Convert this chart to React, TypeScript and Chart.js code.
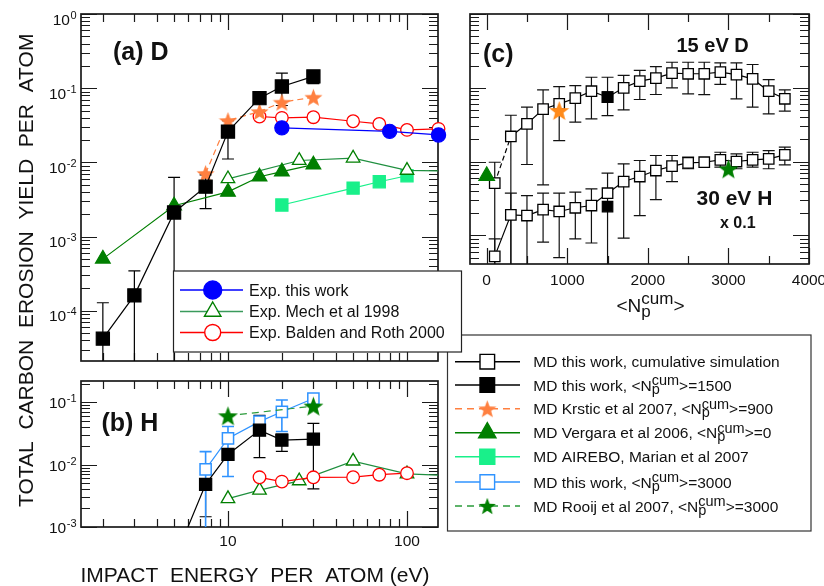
import React, { useEffect, useRef } from 'react';
import { Chart, registerables } from 'chart.js';

Chart.register(...registerables);

const FONT = '"Liberation Sans", Arial, Helvetica, sans-serif';
const CW = 824;
const CH = 586;

// ---------------- (a) D : yield vs impact energy ----------------
const energyMdD = [2, 3, 5, 7.5, 10, 15, 20, 30];
const yieldMdD = [4.2e-5, 1.61e-4, 2.11e-3, 4.7e-3, 0.026, 0.0733, 0.1055, 0.144];
const yieldMdDLow = [1e-6, 1e-6, 1e-6, 2.38e-3, 0.0111, null, 0.0584, 0.115];
const yieldMdDHigh = [1.28e-4, 3.44e-4, 6.27e-3, 6.8e-3, 0.0366, null, 0.16, 0.155];

const energyKrstic = [7.5, 10, 15, 20, 30];
const yieldKrstic = [7.1e-3, 0.0366, 0.0484, 0.0647, 0.0756];

const energyBaldenD = [15, 20, 30, 50, 70, 100, 150];
const yieldBaldenD = [0.0415, 0.0398, 0.0406, 0.0358, 0.033, 0.0274, 0.0283];

const energyExpD = [20, 80, 150];
const yieldExpD = [0.0292, 0.0262, 0.0234];

const energyMechD = [10, 25, 50, 100, 200];
const yieldMechD = [0.006, 0.0106, 0.0114, 0.0078, 0.0076];

const energyVergara = [2, 5, 10, 15, 20, 30];
const yieldVergara = [5.0e-4, 2.6e-3, 4.0e-3, 6.4e-3, 7.5e-3, 9.3e-3];

const energyAirebo = [20, 50, 70, 100];
const yieldAirebo = [2.66e-3, 4.5e-3, 5.48e-3, 6.6e-3];

// ---------------- (b) H : yield vs impact energy ----------------
const energyMdH = [5, 7.5, 10, 15, 20, 30];
const yieldMdH = [2.9e-4, 4.83e-3, 0.0146, 0.0358, 0.0248, 0.0257];
const yieldMdHLow = [null, 1.46e-3, null, 0.013, 0.0163, 0.0041];
const yieldMdHHigh = [null, 4.83e-3, null, 0.062, 0.031, 0.046];

const energyMd3000 = [7.5, 10, 15, 20, 30];
const yieldMd3000 = [8.4e-3, 0.0264, 0.049, 0.0705, 0.115];
const yieldMd3000Low = [1e-6, 6.45e-3, null, 0.034, null];
const yieldMd3000High = [0.0162, 0.041, null, 0.109, null];

const energyRooij = [10, 30];
const yieldRooij = [0.0608, 0.0871];

const energyBaldenH = [15, 20, 30, 50, 70, 100];
const yieldBaldenH = [6.27e-3, 5.35e-3, 6.27e-3, 6.3e-3, 6.9e-3, 7.3e-3];

const energyMechH = [10, 15, 25, 50, 100, 200];
const yieldMechH = [2.85e-3, 3.9e-3, 5.5e-3, 0.0114, 7.1e-3, 6.6e-3];

// ---------------- (c) yield vs cumulative fluence ----------------
const cumN = [100, 300, 500, 700, 900, 1100, 1300, 1500, 1700, 1900, 2100, 2300, 2500, 2700, 2900, 3100, 3300, 3500, 3700];
const cumD15 = [0.0051, 0.0219, 0.0325, 0.0513, 0.0607, 0.0723, 0.0899, 0.0746, 0.1, 0.123, 0.135, 0.158, 0.155, 0.155, 0.163, 0.151, 0.132, 0.09, 0.071];
const cumD15Low = [1e-6, 1e-6, 0.00914, 0.00485, 0.0193, 0.0342, 0.038, 0.0421, 0.0503, 0.0694, 0.0811, 0.1, 0.083, 0.081, 0.111, 0.071, 0.0546, 0.0444, 0.0482];
const cumD15High = [0.0098, 0.0425, 0.0546, 0.094, 0.104, 0.107, 0.139, 0.139, 0.147, 0.172, 0.194, 0.222, 0.222, 0.222, 0.218, 0.218, 0.207, 0.129, 0.094];
// 30 eV H, plotted x 0.1
const cumH30 = [5.2e-4, 1.9e-3, 1.86e-3, 2.24e-3, 2.11e-3, 2.37e-3, 2.54e-3, 3.73e-3, 5.37e-3, 6.28e-3, 7.57e-3, 8.67e-3, 9.63e-3, 9.81e-3, 0.01057, 0.01003, 0.01057, 0.0109, 0.01236];
const cumH30Low = [1e-6, 1e-6, 1e-6, 8.1e-4, 5.0e-4, 9.0e-4, 7.9e-4, 1e-6, 9.2e-4, 1.86e-3, 3.06e-3, 5.37e-3, 8.0e-3, null, 8.4e-3, 8.0e-3, 8.4e-3, 8.0e-3, 9.06e-3];
const cumH30High = [9.0e-4, 3.73e-3, 3.47e-3, 3.73e-3, 3.73e-3, 3.85e-3, 4.28e-3, 6.97e-3, 9.33e-3, 0.01035, 0.0121, 0.0121, 0.01148, null, 0.0134, 0.0127, 0.0134, 0.0141, 0.01567];

const cumFixedN = [1500, 1500];
const cumFixedY = [0.0746, 2.46e-3];
const cumKrsticN = [900];
const cumKrsticY = [0.0492];
const cumRooijN = [3000];
const cumRooijY = [7.98e-3];
const cumVergaraN = [0];
const cumVergaraY = [6.4e-3];

const cumTickLabels = ['0', '1000', '2000', '3000', '4000'];
const energyTickLabels = ['10', '100'];

// ---------------- colours ----------------
const C_ORANGE = '#ff8040';
const C_ORANGE_C = '#ff8a1a';
const C_GREEN = '#007f00';
const C_MECH_LINE = '#1f8f3f';
const C_SPRING = '#19f08a';
const C_SKY = '#2f93ff';
const C_RED = '#ff0000';
const C_BLUE = '#0000ff';

type Tick = { v: number; major: boolean };
type ErrSet = { xs: number[]; lo: (number | null)[]; hi: (number | null)[]; color: string; width: number };

function starImage(color: string, size: number): HTMLCanvasElement {
  const c = document.createElement('canvas');
  c.width = size;
  c.height = size;
  const g = c.getContext('2d')!;
  const R = size / 2;
  const r = R * 0.42;
  const cx = size / 2;
  const cy = size / 2 + R * 0.095;
  g.beginPath();
  for (let i = 0; i < 10; i++) {
    const rad = i % 2 === 0 ? R : r;
    const a = -Math.PI / 2 + (i * Math.PI) / 5;
    const px = cx + rad * Math.cos(a);
    const py = cy + rad * Math.sin(a);
    if (i === 0) g.moveTo(px, py);
    else g.lineTo(px, py);
  }
  g.closePath();
  g.fillStyle = color;
  g.fill();
  return c;
}

function logTicks(min: number, max: number): Tick[] {
  const out: Tick[] = [];
  for (let e = Math.floor(Math.log10(min)); e <= Math.ceil(Math.log10(max)); e++) {
    for (let m = 1; m <= 9; m++) {
      const v = m * Math.pow(10, e);
      if (v >= min * 0.9999 && v <= max * 1.0001) out.push({ v, major: m === 1 });
    }
  }
  return out;
}

function linTicks(from: number, to: number, step: number, majorStep: number): Tick[] {
  const out: Tick[] = [];
  for (let v = from; v <= to + 1e-9; v += step) out.push({ v, major: Math.abs(v % majorStep) < 1e-9 });
  return out;
}

const pts = (xs: number[], ys: number[]) => xs.map((x, i) => ({ x, y: ys[i] }));

function series(xs: number[], ys: number[], o: any) {
  return {
    data: pts(xs, ys),
    borderColor: o.line,
    borderWidth: o.lw ?? 1.2,
    borderDash: o.dash ?? [],
    pointStyle: o.style,
    pointRadius: o.r,
    pointBackgroundColor: o.fill,
    pointBorderColor: o.stroke,
    pointBorderWidth: o.pbw ?? 1.2,
    showLine: o.showLine ?? true,
    tension: 0,
    fill: false,
    clip: o.clip,
    segment: o.segment,
  };
}

function errorBarPlugin(sets: ErrSet[]) {
  return {
    id: 'errorBars',
    beforeDatasetsDraw(chart: any) {
      const { ctx, chartArea: a, scales } = chart;
      ctx.save();
      ctx.beginPath();
      ctx.rect(a.left, a.top, a.right - a.left, a.bottom - a.top);
      ctx.clip();
      for (const s of sets) {
        ctx.strokeStyle = s.color;
        ctx.lineWidth = s.width;
        ctx.beginPath();
        s.xs.forEach((x, i) => {
          const lo = s.lo[i];
          const hi = s.hi[i];
          if (lo == null || hi == null) return;
          const px = scales.x.getPixelForValue(x);
          const y1 = scales.y.getPixelForValue(lo);
          const y2 = scales.y.getPixelForValue(hi);
          ctx.moveTo(px, y1);
          ctx.lineTo(px, y2);
          ctx.moveTo(px - 6, y1);
          ctx.lineTo(px + 6, y1);
          ctx.moveTo(px - 6, y2);
          ctx.lineTo(px + 6, y2);
        });
        ctx.stroke();
      }
      ctx.restore();
    },
  };
}

function framePlugin(xt: Tick[], yt: Tick[]) {
  return {
    id: 'frameTicks',
    beforeDatasetsDraw(chart: any) {
      const { ctx, chartArea: a, scales } = chart;
      ctx.save();
      ctx.strokeStyle = '#1a1a1a';
      ctx.lineWidth = 1.2;
      ctx.beginPath();
      for (const t of xt) {
        const px = Math.round(scales.x.getPixelForValue(t.v)) + 0.5;
        const len = t.major ? 16 : 8;
        ctx.moveTo(px, a.top);
        ctx.lineTo(px, a.top + len);
        ctx.moveTo(px, a.bottom);
        ctx.lineTo(px, a.bottom - len);
      }
      for (const t of yt) {
        const py = Math.round(scales.y.getPixelForValue(t.v)) + 0.5;
        const len = t.major ? 16 : 9;
        ctx.moveTo(a.left, py);
        ctx.lineTo(a.left + len, py);
        ctx.moveTo(a.right, py);
        ctx.lineTo(a.right - len, py);
      }
      ctx.stroke();
      ctx.lineWidth = 1.7;
      ctx.strokeRect(a.left, a.top, a.right - a.left, a.bottom - a.top);
      ctx.restore();
    },
  };
}

const TICK_FONT = `15.5px ${FONT}`;
const SUP_FONT = `11px ${FONT}`;

function drawPow(ctx: CanvasRenderingContext2D, xRight: number, yTick: number, exp: number, dy: number) {
  const sup = String(exp);
  ctx.font = SUP_FONT;
  const ws = ctx.measureText(sup).width;
  ctx.font = TICK_FONT;
  const wm = ctx.measureText('10').width;
  const x0 = xRight - ws - wm - 0.5;
  ctx.fillText('10', x0, yTick + dy);
  ctx.font = SUP_FONT;
  ctx.fillText(sup, x0 + wm + 0.5, yTick + dy - 6);
}

type Piece = string | { sub: string; sup: string };

function drawRich(ctx: CanvasRenderingContext2D, x: number, y: number, pieces: Piece[], main: string, small: string, rise: number, drop: number) {
  let cx = x;
  for (const p of pieces) {
    if (typeof p === 'string') {
      ctx.font = main;
      ctx.fillText(p, cx, y);
      cx += ctx.measureText(p).width;
    } else {
      ctx.font = small;
      const w1 = ctx.measureText(p.sub).width;
      const w2 = ctx.measureText(p.sup).width;
      ctx.fillText(p.sub, cx, y + drop);
      ctx.fillText(p.sup, cx, y - rise);
      cx += Math.max(w1, w2);
    }
  }
}

function drawMarker(ctx: CanvasRenderingContext2D, kind: any, x: number, y: number, r: number, fill: string | null, stroke: string | null, lw = 1.3) {
  if (typeof kind !== 'string') {
    ctx.drawImage(kind, x - kind.width / 2, y - kind.height / 2);
    return;
  }
  ctx.save();
  ctx.beginPath();
  if (kind === 'circle') ctx.arc(x, y, r, 0, Math.PI * 2);
  else if (kind === 'rect') ctx.rect(x - r, y - r, 2 * r, 2 * r);
  else if (kind === 'triangle') {
    ctx.moveTo(x, y - r);
    ctx.lineTo(x + r * 0.866, y + r / 2);
    ctx.lineTo(x - r * 0.866, y + r / 2);
    ctx.closePath();
  }
  if (fill) {
    ctx.fillStyle = fill;
    ctx.fill();
  }
  if (stroke) {
    ctx.lineWidth = lw;
    ctx.strokeStyle = stroke;
    ctx.stroke();
  }
  ctx.restore();
}

function legendLine(ctx: CanvasRenderingContext2D, x1: number, x2: number, y: number, color: string, dash: number[] = []) {
  ctx.save();
  ctx.strokeStyle = color;
  ctx.lineWidth = 1.5;
  ctx.setLineDash(dash);
  ctx.beginPath();
  ctx.moveTo(x1, y);
  ctx.lineTo(x2, y);
  ctx.stroke();
  ctx.restore();
}

const NP: Piece = { sub: 'p', sup: 'cum' };

function baseOptions(pad: { left: number; top: number; right: number; bottom: number }, x: any, y: any) {
  return {
    responsive: false,
    animation: false as const,
    events: [] as any[],
    layout: { padding: { left: pad.left, top: pad.top, right: CW - pad.right, bottom: CH - pad.bottom } },
    scales: { x: { ...x, display: false }, y: { ...y, display: false } },
    plugins: { legend: { display: false }, tooltip: { enabled: false } },
  };
}

function makeChartA(canvas: HTMLCanvasElement) {
  const starA = starImage(C_ORANGE, 19);
  const starL = starImage(C_ORANGE, 19);
  const xMin = 1.51, xMax = 149, yMin = 2.1e-5, yMax = 1;
  const overlay = {
    id: 'overlayA',
    afterDraw(chart: any) {
      const ctx: CanvasRenderingContext2D = chart.ctx;
      const ys = chart.scales.y;
      ctx.save();
      ctx.fillStyle = '#111';
      ctx.textAlign = 'left';
      ctx.textBaseline = 'alphabetic';
      [0, -1, -2, -3, -4].forEach((e) => drawPow(ctx, 76.5, ys.getPixelForValue(Math.pow(10, e)), e, 10.5));
      ctx.font = `bold 25px ${FONT}`;
      ctx.fillText('(a) D', 113, 60);
      // shared y-axis title
      ctx.save();
      ctx.translate(33, 507);
      ctx.rotate(-Math.PI / 2);
      ctx.font = `21px ${FONT}`;
      ctx.fillText('TOTAL  CARBON  EROSION  YIELD  PER  ATOM', 0, 0);
      ctx.restore();
      // experiments legend
      ctx.fillStyle = '#fff';
      ctx.fillRect(173.5, 271, 288, 81);
      ctx.strokeStyle = '#222';
      ctx.lineWidth = 1.2;
      ctx.strokeRect(173.5, 271, 288, 81);
      const rows = [
        { y: 290, line: C_BLUE, kind: 'circle', r: 9, fill: C_BLUE, stroke: C_BLUE, text: 'Exp. this work' },
        { y: 311.5, line: '#3a9a5c', kind: 'triangle', r: 9.5, fill: '#fff', stroke: C_GREEN, text: 'Exp. Mech et al 1998' },
        { y: 332.5, line: C_RED, kind: 'circle', r: 8, fill: '#fff', stroke: C_RED, text: 'Exp. Balden and Roth 2000' },
      ];
      for (const r of rows) {
        legendLine(ctx, 180, 243, r.y, r.line);
        drawMarker(ctx, r.kind, 212.7, r.y, r.r, r.fill, r.stroke, 1.4);
        ctx.fillStyle = '#111';
        ctx.font = `16px ${FONT}`;
        ctx.fillText(r.text, 249, r.y + 5.5);
      }
      ctx.restore();
      void starL;
    },
  };
  return new Chart(canvas, {
    type: 'line',
    data: {
      datasets: [
        series(energyMdD, yieldMdD, { line: '#000', style: 'rect', r: 9.3, fill: '#000', stroke: '#000' }),
        series(energyKrstic, yieldKrstic, { line: C_ORANGE, dash: [6, 4], style: starA, r: 10, fill: C_ORANGE, stroke: C_ORANGE }),
        series(energyExpD, yieldExpD, { line: C_BLUE, style: 'circle', r: 7.1, fill: C_BLUE, stroke: C_BLUE, clip: false }),
        series(energyBaldenD, yieldBaldenD, { line: C_RED, style: 'circle', r: 6.3, fill: '#fff', stroke: C_RED, pbw: 1.3, clip: false }),
        series(energyVergara, yieldVergara, { line: C_GREEN, style: 'triangle', r: 8.5, fill: C_GREEN, stroke: C_GREEN }),
        series(energyMechD, yieldMechD, { line: C_MECH_LINE, style: 'triangle', r: 7.8, fill: '#fff', stroke: C_GREEN, pbw: 1.3 }),
        series(energyAirebo, yieldAirebo, { line: C_SPRING, style: 'rect', r: 8.6, fill: C_SPRING, stroke: C_SPRING }),
      ] as any,
    },
    options: baseOptions({ left: 81, top: 14, right: 438, bottom: 361 },
      { type: 'logarithmic', min: xMin, max: xMax },
      { type: 'logarithmic', min: yMin, max: yMax }) as any,
    plugins: [
      framePlugin(logTicks(xMin, xMax), logTicks(yMin, yMax)),
      errorBarPlugin([{ xs: energyMdD, lo: yieldMdDLow, hi: yieldMdDHigh, color: '#000', width: 1.2 }]),
      overlay,
    ],
  });
}

function makeChartB(canvas: HTMLCanvasElement) {
  const starB = starImage(C_GREEN, 21);
  const starL1 = starImage(C_ORANGE, 19);
  const starL2 = starImage(C_GREEN, 18);
  const xMin = 1.51, xMax = 149, yMin = 1e-3, yMax = 0.22;
  const overlay = {
    id: 'overlayB',
    afterDraw(chart: any) {
      const ctx: CanvasRenderingContext2D = chart.ctx;
      const xs = chart.scales.x;
      const ys = chart.scales.y;
      ctx.save();
      ctx.fillStyle = '#111';
      ctx.textBaseline = 'alphabetic';
      ctx.textAlign = 'left';
      [-1, -2, -3].forEach((e) => drawPow(ctx, 76.5, ys.getPixelForValue(Math.pow(10, e)), e, 6));
      ctx.textAlign = 'center';
      ctx.font = TICK_FONT;
      [10, 100].forEach((v, i) => ctx.fillText(energyTickLabels[i], xs.getPixelForValue(v), 545.5));
      ctx.textAlign = 'left';
      ctx.font = `bold 25px ${FONT}`;
      ctx.fillText('(b) H', 101.5, 431);
      ctx.font = `21px ${FONT}`;
      ctx.fillText('IMPACT  ENERGY  PER  ATOM (eV)', 80.5, 581.5);
      // simulations legend
      ctx.fillStyle = '#fff';
      ctx.fillRect(447.5, 335, 363.5, 196);
      ctx.strokeStyle = '#333';
      ctx.lineWidth = 1.2;
      ctx.strokeRect(447.5, 335, 363.5, 196);
      const rows: any[] = [
        { y: 361.7, line: '#000', kind: 'rect', r: 7.3, fill: '#fff', stroke: '#000', text: ['MD this work, cumulative simulation'] },
        { y: 385, line: '#000', kind: 'rect', r: 7.3, fill: '#000', stroke: '#000', text: ['MD this work, <N', NP, '>=1500'] },
        { y: 408.7, line: C_ORANGE, dash: [7, 5], kind: starL1, r: 0, fill: null, stroke: null, text: ['MD Krstic et al 2007, <N', NP, '>=900'] },
        { y: 432.7, line: C_GREEN, kind: 'triangle', r: 10, fill: C_GREEN, stroke: C_GREEN, text: ['MD Vergara et al 2006, <N', NP, '>=0'] },
        { y: 456.7, line: C_SPRING, kind: 'rect', r: 7.5, fill: C_SPRING, stroke: C_SPRING, text: ['MD AIREBO, Marian et al 2007'] },
        { y: 482, line: C_SKY, kind: 'rect', r: 7.3, fill: '#fff', stroke: C_SKY, text: ['MD this work, <N', NP, '>=3000'] },
        { y: 506, line: '#2a9a3a', dash: [7, 5], kind: starL2, r: 0, fill: null, stroke: null, text: ['MD Rooij et al 2007, <N', NP, '>=3000'] },
      ];
      for (const r of rows) {
        legendLine(ctx, 455, 520, r.y, r.line, r.dash ?? []);
        drawMarker(ctx, r.kind, 487.3, r.y, r.r, r.fill, r.stroke, 1.4);
        ctx.fillStyle = '#111';
        drawRich(ctx, 533.3, r.y + 5.5, r.text, `15.5px ${FONT}`, `14.5px ${FONT}`, 5.5, 3);
      }
      ctx.restore();
    },
  };
  return new Chart(canvas, {
    type: 'line',
    data: {
      datasets: [
        series(energyRooij, yieldRooij, { line: '#2a9a3a', dash: [7, 5], style: starB, r: 10, fill: C_GREEN, stroke: C_GREEN }),
        series(energyMdH, yieldMdH, { line: '#000', style: 'rect', r: 8.6, fill: '#000', stroke: '#000' }),
        series(energyMd3000, yieldMd3000, { line: C_SKY, style: 'rect', r: 7.9, fill: '#fff', stroke: C_SKY, pbw: 1.5 }),
        series(energyBaldenH, yieldBaldenH, { line: C_RED, style: 'circle', r: 6.3, fill: '#fff', stroke: C_RED, pbw: 1.3 }),
        series(energyMechH, yieldMechH, { line: C_MECH_LINE, style: 'triangle', r: 7.8, fill: '#fff', stroke: C_GREEN, pbw: 1.3 }),
      ] as any,
    },
    options: baseOptions({ left: 81, top: 381, right: 438, bottom: 527 },
      { type: 'logarithmic', min: xMin, max: xMax },
      { type: 'logarithmic', min: yMin, max: yMax }) as any,
    plugins: [
      framePlugin(logTicks(xMin, xMax), logTicks(yMin, yMax)),
      errorBarPlugin([
        { xs: energyMdH, lo: yieldMdHLow, hi: yieldMdHHigh, color: '#000', width: 1.2 },
        { xs: energyMd3000, lo: yieldMd3000Low, hi: yieldMd3000High, color: C_SKY, width: 1.6 },
      ]),
      overlay,
    ],
  });
}

function makeChartC(canvas: HTMLCanvasElement) {
  const starOrange = starImage(C_ORANGE_C, 21);
  const starGreen = starImage(C_GREEN, 21);
  const xMin = -207, xMax = 4000, yMin = 4.1e-4, yMax = 1;
  const overlay = {
    id: 'overlayC',
    afterDraw(chart: any) {
      const ctx: CanvasRenderingContext2D = chart.ctx;
      const xs = chart.scales.x;
      ctx.save();
      ctx.fillStyle = '#111';
      ctx.textBaseline = 'alphabetic';
      ctx.textAlign = 'center';
      ctx.font = TICK_FONT;
      [0, 1000, 2000, 3000, 4000].forEach((v, i) => ctx.fillText(cumTickLabels[i], xs.getPixelForValue(v), 285));
      ctx.textAlign = 'left';
      drawRich(ctx, 616.5, 311.5, ['<N', NP, '>'], `19px ${FONT}`, `17px ${FONT}`, 8, 5);
      ctx.font = `bold 25px ${FONT}`;
      ctx.fillText('(c)', 483, 61.5);
      ctx.font = `bold 20px ${FONT}`;
      ctx.fillText('15 eV D', 676.5, 51.5);
      ctx.font = `bold 21px ${FONT}`;
      ctx.fillText('30 eV H', 696.5, 205);
      ctx.font = `bold 16px ${FONT}`;
      ctx.fillText('x 0.1', 720, 228);
      ctx.restore();
    },
  };
  return new Chart(canvas, {
    type: 'line',
    data: {
      datasets: [
        series(cumKrsticN, cumKrsticY, { line: C_ORANGE_C, style: starOrange, r: 10, fill: C_ORANGE_C, stroke: C_ORANGE_C, showLine: false }),
        series(cumRooijN, cumRooijY, { line: C_GREEN, style: starGreen, r: 10, fill: C_GREEN, stroke: C_GREEN, showLine: false }),
        series(cumVergaraN, cumVergaraY, { line: C_GREEN, style: 'triangle', r: 9, fill: C_GREEN, stroke: C_GREEN, showLine: false }),
        series(cumFixedN, cumFixedY, { line: '#000', style: 'rect', r: 7.4, fill: '#000', stroke: '#000', showLine: false }),
        series(cumN, cumD15, {
          line: '#000', style: 'rect', r: 7.4, fill: '#fff', stroke: '#000', pbw: 1.3,
          segment: { borderDash: (c: any) => (c.p0DataIndex === 0 ? [5, 3] : undefined) },
        }),
        series(cumN, cumH30, { line: '#000', style: 'rect', r: 7.4, fill: '#fff', stroke: '#000', pbw: 1.3 }),
      ] as any,
    },
    options: baseOptions({ left: 470, top: 14, right: 809, bottom: 264 },
      { type: 'linear', min: xMin, max: xMax },
      { type: 'logarithmic', min: yMin, max: yMax }) as any,
    plugins: [
      framePlugin(linTicks(0, 4000, 500, 1000), logTicks(yMin, yMax)),
      errorBarPlugin([
        { xs: cumN, lo: cumD15Low, hi: cumD15High, color: '#111', width: 1.2 },
        { xs: cumN, lo: cumH30Low, hi: cumH30High, color: '#111', width: 1.2 },
      ]),
      overlay,
    ],
  });
}

const canvasStyle: React.CSSProperties = { position: 'absolute', left: 0, top: 0 };

export default function App() {
  const refA = useRef<HTMLCanvasElement>(null);
  const refB = useRef<HTMLCanvasElement>(null);
  const refC = useRef<HTMLCanvasElement>(null);

  useEffect(() => {
    const charts = [makeChartC(refC.current!), makeChartB(refB.current!), makeChartA(refA.current!)];
    return () => charts.forEach((c) => c.destroy());
  }, []);

  return (
    <div style={{ position: 'absolute', left: 0, top: 0, width: CW, height: CH, background: '#fff', overflow: 'hidden' }}>
      <canvas ref={refC} width={CW} height={CH} style={canvasStyle} />
      <canvas ref={refB} width={CW} height={CH} style={canvasStyle} />
      <canvas ref={refA} width={CW} height={CH} style={canvasStyle} />
    </div>
  );
}
